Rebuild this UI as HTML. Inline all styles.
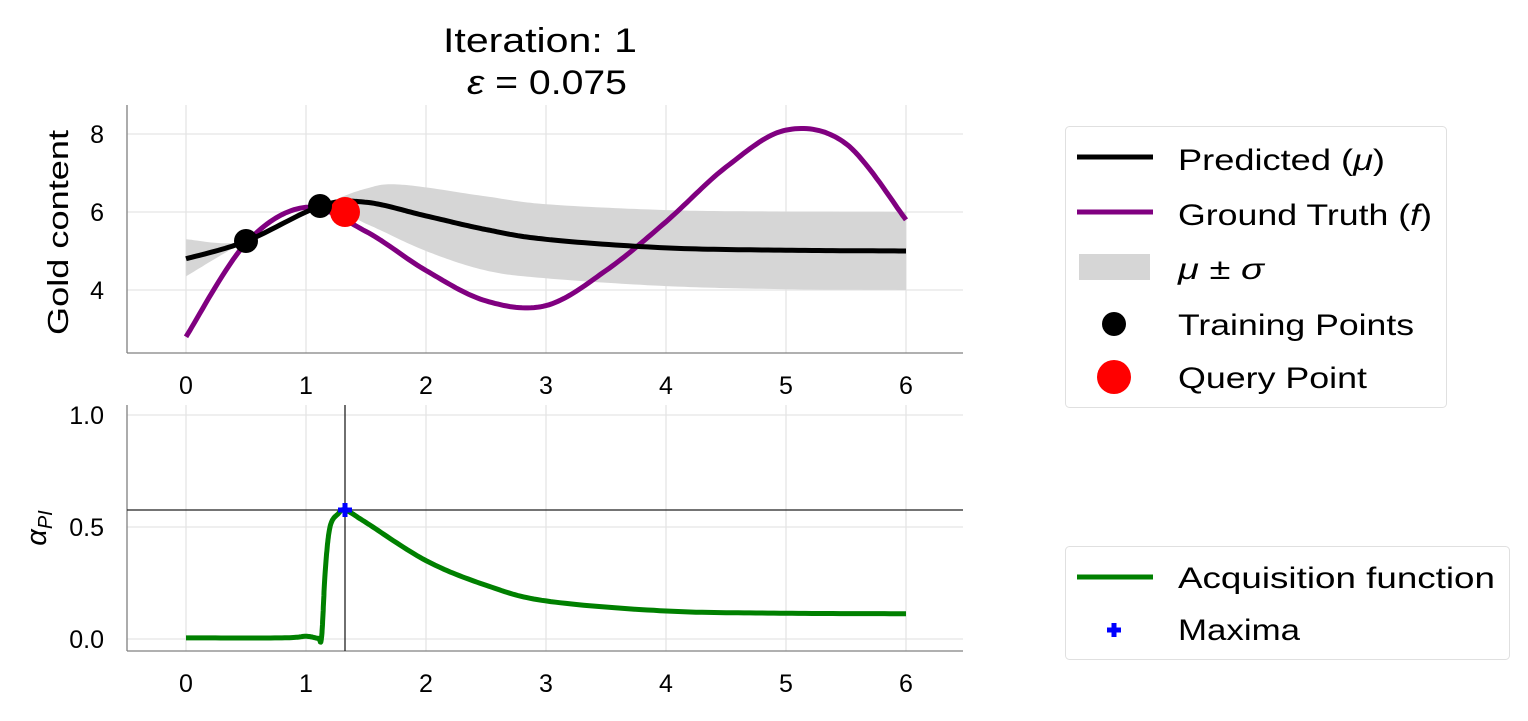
<!DOCTYPE html>
<html><head><meta charset="utf-8"><style>
html,body{margin:0;padding:0;background:#fff;}
svg{display:block;font-family:"Liberation Sans","DejaVu Sans",sans-serif;}
</style></head><body>
<svg id="s" width="1528" height="721" viewBox="0 0 1528 721" xmlns="http://www.w3.org/2000/svg">
<rect width="1528" height="721" fill="#fff"/>
<text x="443" y="52" font-size="34" textLength="194" lengthAdjust="spacingAndGlyphs">Iteration: 1</text>
<text x="467" y="94" font-size="34" textLength="160" lengthAdjust="spacingAndGlyphs"><tspan font-style="italic">ε</tspan> = 0.075</text>
<g stroke="#e5e5e5" stroke-width="1.3">
<line x1="186" y1="105" x2="186" y2="353"/><line x1="306" y1="105" x2="306" y2="353"/><line x1="426" y1="105" x2="426" y2="353"/><line x1="546" y1="105" x2="546" y2="353"/><line x1="666" y1="105" x2="666" y2="353"/><line x1="786" y1="105" x2="786" y2="353"/><line x1="906" y1="105" x2="906" y2="353"/>
<line x1="127" y1="134" x2="963" y2="134"/><line x1="127" y1="212" x2="963" y2="212"/><line x1="127" y1="290" x2="963" y2="290"/>
<line x1="186" y1="405" x2="186" y2="651"/><line x1="306" y1="405" x2="306" y2="651"/><line x1="426" y1="405" x2="426" y2="651"/><line x1="546" y1="405" x2="546" y2="651"/><line x1="666" y1="405" x2="666" y2="651"/><line x1="786" y1="405" x2="786" y2="651"/><line x1="906" y1="405" x2="906" y2="651"/>
<line x1="127" y1="415" x2="963" y2="415"/><line x1="127" y1="527" x2="963" y2="527"/><line x1="127" y1="639" x2="963" y2="639"/>
</g>
<path id="band" fill="#d6d6d6" stroke="none"/>
<path id="gt" fill="none" stroke="#800080" stroke-width="5"/>
<path id="mu" fill="none" stroke="#000" stroke-width="5"/>
<circle cx="345" cy="212" r="15" fill="#ff0000"/>
<circle cx="246" cy="241" r="12" fill="#000"/>
<circle cx="320" cy="206" r="12" fill="#000"/>
<g stroke="#808080" stroke-width="1.3" fill="none">
<line x1="127" y1="105" x2="127" y2="353"/><line x1="127" y1="353" x2="963" y2="353"/>
<line x1="127" y1="405" x2="127" y2="651"/><line x1="127" y1="651" x2="963" y2="651"/>
</g>
<g font-size="25" text-anchor="middle">
<text x="186" y="394">0</text><text x="306" y="394">1</text><text x="426" y="394">2</text><text x="546" y="394">3</text><text x="666" y="394">4</text><text x="786" y="394">5</text><text x="906" y="394">6</text>
<text x="186" y="692">0</text><text x="306" y="692">1</text><text x="426" y="692">2</text><text x="546" y="692">3</text><text x="666" y="692">4</text><text x="786" y="692">5</text><text x="906" y="692">6</text>
</g>
<g font-size="25" text-anchor="end">
<text x="104" y="143">8</text><text x="104" y="221">6</text><text x="104" y="299">4</text>
<text x="104" y="424">1.0</text><text x="104" y="536">0.5</text><text x="104" y="648">0.0</text>
</g>
<text transform="translate(68,335) rotate(-90)" font-size="29" textLength="205" lengthAdjust="spacingAndGlyphs">Gold content</text>
<text transform="translate(46,528) rotate(-90)" font-size="29" text-anchor="middle"><tspan font-style="italic">α</tspan><tspan font-size="20" dy="6" font-style="italic">PI</tspan></text>
<line x1="345" y1="405" x2="345" y2="651" stroke="#222" stroke-width="1.3"/>
<line x1="127" y1="510" x2="963" y2="510" stroke="#222" stroke-width="1.3"/>
<path id="acq" fill="none" stroke="#008000" stroke-width="5"/>
<path d="M338 510 H352 M345 503 V517" stroke="#0000ff" stroke-width="5"/>
<rect x="1065.5" y="126.5" width="381" height="281" rx="4" fill="#fff" stroke="#e0e0e0"/>
<line x1="1077" y1="157" x2="1153" y2="157" stroke="#000" stroke-width="5"/>
<line x1="1077" y1="212" x2="1153" y2="212" stroke="#800080" stroke-width="5"/>
<rect x="1079" y="254" width="71" height="26" fill="#d6d6d6"/>
<circle cx="1114" cy="324" r="12" fill="#000"/>
<circle cx="1114" cy="377" r="17" fill="#ff0000"/>
<g font-size="30" lengthAdjust="spacingAndGlyphs">
<text x="1178" y="170" textLength="207" lengthAdjust="spacingAndGlyphs">Predicted (<tspan font-style="italic">μ</tspan>)</text>
<text x="1178" y="225" textLength="254" lengthAdjust="spacingAndGlyphs">Ground Truth (<tspan font-style="italic">f</tspan>)</text>
<text x="1178" y="279" textLength="86" lengthAdjust="spacingAndGlyphs"><tspan font-style="italic">μ</tspan> ± <tspan font-style="italic">σ</tspan></text>
<text x="1178" y="335" textLength="236" lengthAdjust="spacingAndGlyphs">Training Points</text>
<text x="1178" y="388" textLength="189" lengthAdjust="spacingAndGlyphs">Query Point</text>
</g>
<rect x="1065.5" y="546.5" width="444" height="113" rx="4" fill="#fff" stroke="#e0e0e0"/>
<line x1="1077" y1="577" x2="1153" y2="577" stroke="#008000" stroke-width="5"/>
<path d="M1107 630 H1121 M1114 623 V637" stroke="#0000ff" stroke-width="5"/>
<g font-size="30">
<text x="1178" y="588" textLength="317" lengthAdjust="spacingAndGlyphs">Acquisition function</text>
<text x="1178" y="640" textLength="122" lengthAdjust="spacingAndGlyphs">Maxima</text>
</g>
</svg>
<script>
function X(x){return 186+120*x;}
function Yt(v){return 134+(8-v)*39;}
function Yb(v){return 639-224*v;}
function cr(pts,Y){
  var P=pts.map(function(p){return [X(p[0]),Y(p[1])];});
  var out=[];
  for(var i=0;i<P.length-1;i++){
    var p0=P[Math.max(0,i-1)],p1=P[i],p2=P[i+1],p3=P[Math.min(P.length-1,i+2)];
    for(var t=0;t<1;t+=0.05){
      var t2=t*t,t3=t2*t;
      var x=0.5*((2*p1[0])+(-p0[0]+p2[0])*t+(2*p0[0]-5*p1[0]+4*p2[0]-p3[0])*t2+(-p0[0]+3*p1[0]-3*p2[0]+p3[0])*t3);
      var y=0.5*((2*p1[1])+(-p0[1]+p2[1])*t+(2*p0[1]-5*p1[1]+4*p2[1]-p3[1])*t2+(-p0[1]+3*p1[1]-3*p2[1]+p3[1])*t3);
      out.push([x,y]);
    }
  }
  out.push(P[P.length-1]);
  return out;
}
function d(a){return a.map(function(p,i){return (i?'L':'M')+p[0].toFixed(1)+' '+p[1].toFixed(1);}).join(' ');}
var gt=[[0,2.8],[0.5,5.2],[1,6.12],[1.5,5.5],[2,4.5],[2.5,3.72],[3,3.6],[3.5,4.5],[4,5.75],[4.5,7.15],[5,8.1],[5.5,7.75],[6,5.8]];
var mu=[[0,4.8],[0.5,5.25],[1.12,6.15],[1.5,6.25],[2,5.9],[2.5,5.55],[3,5.3],[4,5.08],[5,5.02],[6,5.0]];
var up=[[0,5.3],[0.5,5.25],[1.12,6.15],[1.5,6.6],[1.8,6.7],[2.5,6.4],[3,6.2],[4,6.05],[5,6.01],[6,6.0]];
var lo=[[0,4.35],[0.5,5.25],[1.12,6.15],[1.5,5.7],[2,5.0],[2.5,4.5],[3,4.3],[4,4.1],[5,4.02],[6,4.0]];
var acq=[[0,0.005],[0.8,0.005],[1,0.012],[1.1,0.003],[1.13,0.01],[1.16,0.3],[1.2,0.5],[1.27,0.56],[1.33,0.575],[1.5,0.52],[2,0.35],[2.5,0.24],[3,0.17],[4,0.125],[5,0.115],[6,0.113]];
document.getElementById('gt').setAttribute('d',d(cr(gt,Yt)));
document.getElementById('mu').setAttribute('d',d(cr(mu,Yt)));
var u=cr(up,Yt),l=cr(lo,Yt).reverse();
document.getElementById('band').setAttribute('d',d(u.concat(l))+' Z');
document.getElementById('acq').setAttribute('d',d(cr(acq,Yb)));
</script>
</body></html>
